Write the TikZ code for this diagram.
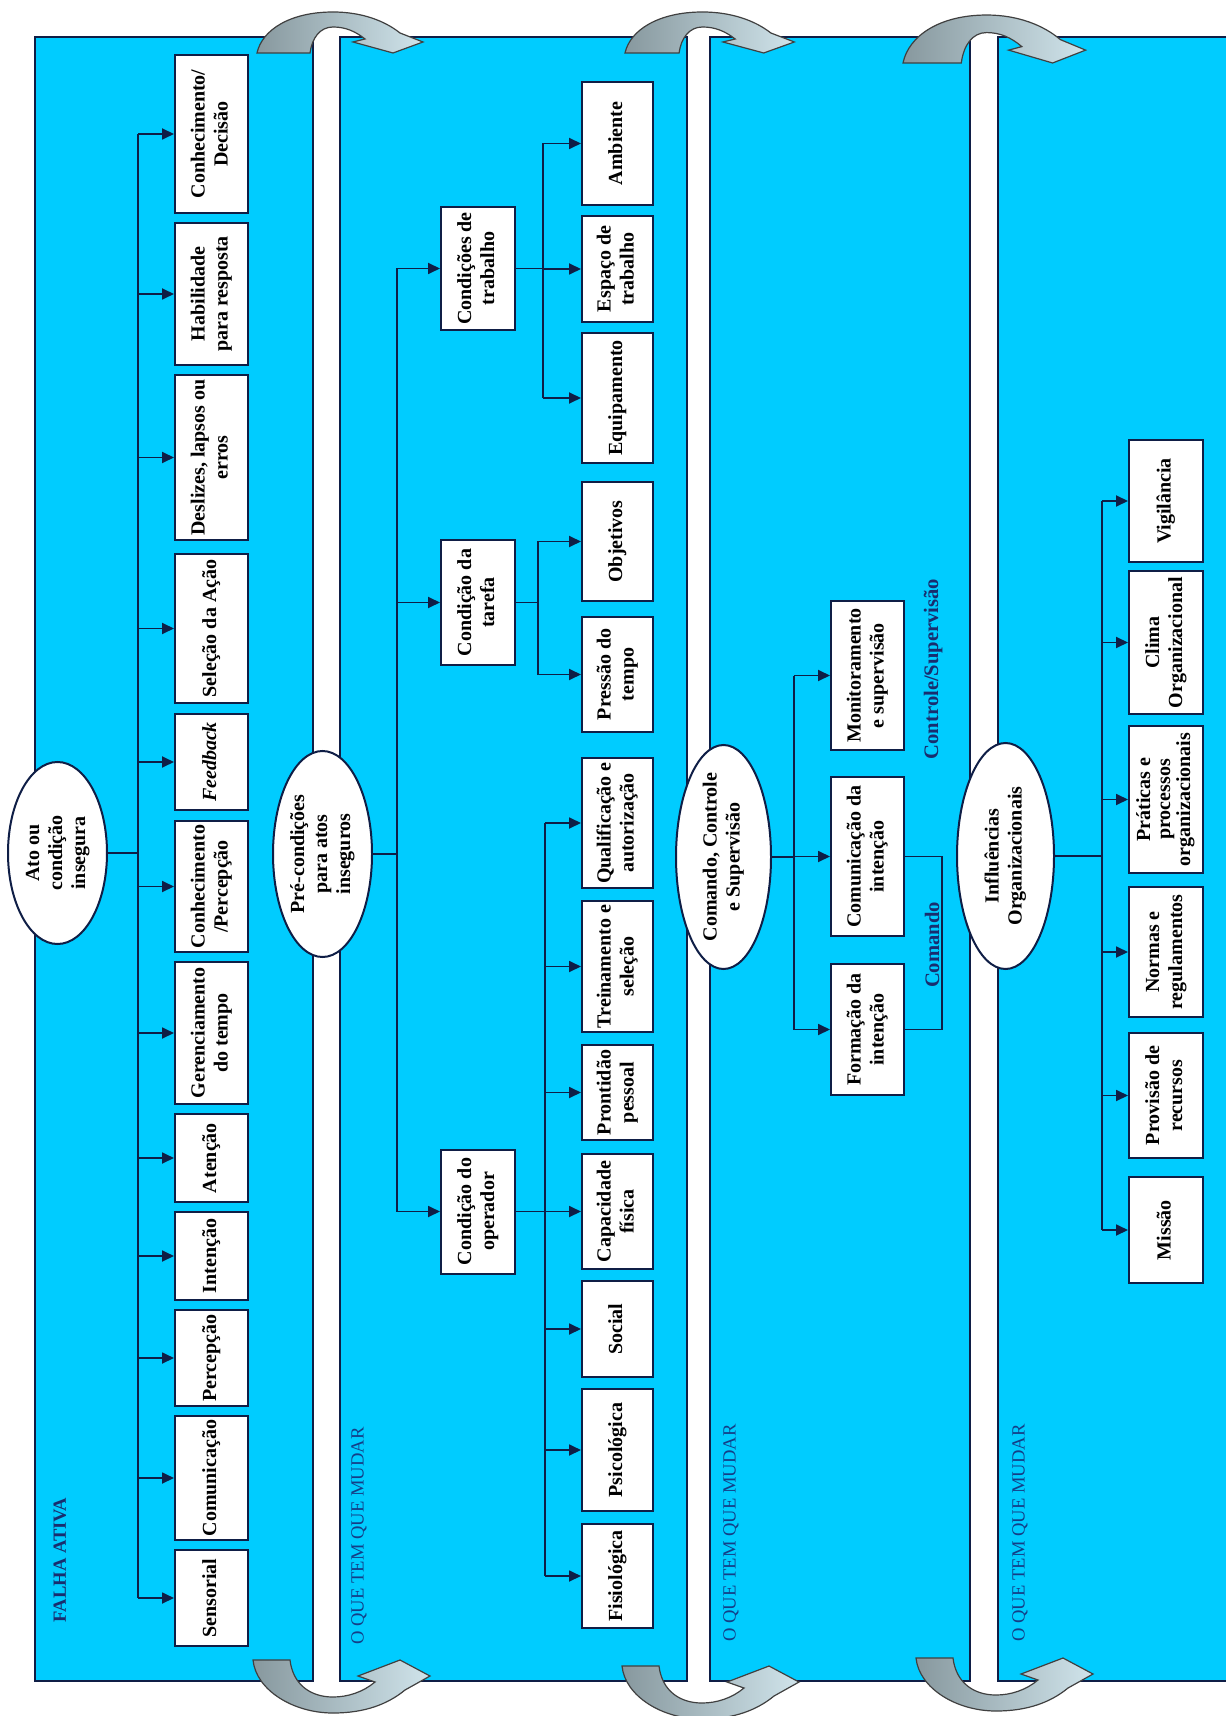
\documentclass[tikz,border=0pt]{standalone}
\usepackage{fontspec}
\setmainfont{Liberation Serif}
\usepackage{graphicx}
\usetikzlibrary{arrows.meta,shapes.geometric}
\definecolor{panelc}{RGB}{0,204,255}
\definecolor{linec}{RGB}{15,30,70}
\definecolor{navy}{RGB}{25,45,110}
\definecolor{mudarc}{RGB}{20,62,135}
\definecolor{arrdark}{RGB}{135,152,158}
\definecolor{arrlight}{RGB}{208,228,235}
\newcommand{\rt}[1]{\rotatebox{90}{\begin{tabular}{@{}c@{}}#1\end{tabular}}}
\begin{document}
\begin{tikzpicture}[x=0.5pt,y=-0.5pt,
  every node/.style={font=\fontsize{10}{11.5}\selectfont\bfseries, text=black},
  panel/.style={fill=panelc},
  pborder/.style={draw=linec, line width=1pt},
  box/.style={draw=linec, line width=1pt, fill=white, inner sep=0pt, rectangle},
  bsize/.style 2 args={minimum width={#1*0.5pt}, minimum height={#2*0.5pt}},
  ell/.style={ellipse, draw=linec, line width=1pt, fill=white, inner sep=0pt},
  conn/.style={draw=linec, line width=0.9pt},
  arr/.style={conn, -{Triangle[length=6pt,width=5.5pt]}},
  carrow/.style={draw=black!75, line width=0.6pt, left color=arrdark, right color=arrlight},
  lbl/.style={text=navy, rotate=90, inner sep=0pt},
  mudar/.style={text=mudarc, rotate=90, inner sep=0pt, font=\fontsize{9.3}{11}\selectfont}]
\useasboundingbox (0,0) rectangle (1226,1716);
\fill[white] (0,0) rectangle (1226,1716);
% panels
\path[panel, pborder] (35,37) rectangle (313,1681);
\path[panel, pborder] (340,37) rectangle (687,1681);
\path[panel, pborder] (710,37) rectangle (970,1681);
\fill[panelc] (998,37) rectangle (1226,1681);
\draw[pborder] (1226,37) -- (998,37) -- (998,1681) -- (1226,1681);
% curved arrows (top)
\foreach \sx/\sy/\xs/\ys in {257/53/1/1, 625/53/1.02/1, 903/63/1.1/1.17}{
  \begin{scope}[shift={(\sx,\sy)}, xscale=\xs, yscale=\ys]
  \path[carrow] (0,0) .. controls (5,-23) and (33,-41) .. (76,-41) .. controls (105,-41) and (128,-32) .. (143,-20) -- (166,-11) -- (136,0) -- (96,-11) -- (108,-14) .. controls (98,-22) and (88,-26) .. (76,-26) .. controls (63,-26) and (55,-15) .. (53,0) -- cycle;
  \end{scope}}
% curved arrows (bottom)
\foreach \sx/\sy in {253/1660, 622/1666, 916/1658}{
  \begin{scope}[shift={(\sx,\sy)}]
  \path[carrow] (0,0) .. controls (3,30) and (40,53) .. (80,53) .. controls (112,53) and (135,44) .. (152,30) -- (177,16) -- (147,0) -- (105,16) -- (122,22) .. controls (110,32) and (95,37) .. (80,37) .. controls (58,37) and (40,25) .. (37,0) -- cycle;
  \end{scope}}
% labels
\node[lbl, font=\fontsize{9.3}{11}\selectfont\bfseries] (falha) at (60,1560) {FALHA ATIVA};
\node[mudar] (m1) at (359,1536) {O QUE TEM QUE MUDAR};
\node[mudar] (m2) at (731,1533) {O QUE TEM QUE MUDAR};
\node[mudar] (m3) at (1020,1533) {O QUE TEM QUE MUDAR};
\node[lbl, font=\fontsize{10.3}{12}\selectfont\bfseries] (lcmd) at (932,945) {Comando};
\node[lbl, font=\fontsize{10.3}{12}\selectfont\bfseries] (lctl) at (933,669) {Controle/Supervisão};
% ellipses
\node[ell, bsize={99}{182}] (ato) at (57.5,853) {};
\node (atot) at (ato.center) {\rt{Ato ou\\condição\\insegura}};
\node[ell, bsize={99}{206}] (pre) at (322.5,854) {};
\node (pret) at (pre.center) {\rt{Pré-condições\\para atos\\inseguros}};
\node[ell, bsize={95}{224}] (cmd) at (723.5,857) {};
\node (cmdt) at (cmd.center) {\rt{Comando, Controle\\e Supervisão}};
\node[ell, bsize={97}{226}] (inf) at (1005.5,856) {};
\node (inft) at (inf.center) {\rt{Influências\\Organizacionais}};
% panel 1 boxes
\node[box,bsize={73}{158}] (cd) at (211.5,134) {\rt{Conhecimento/\\Decisão}};
\node[box,bsize={73}{142}] (hr) at (211.5,294) {\rt{Habilidade\\para resposta}};
\node[box,bsize={73}{165}] (dl) at (211.5,457.5) {\rt{Deslizes, lapsos ou\\erros}};
\node[box,bsize={73}{149}] (sa) at (211.5,628.5) {\rt{Seleção da Ação}};
\node[box,bsize={73}{96}] (fb) at (211.5,762) {\rt{\textit{Feedback}}};
\node[box,bsize={73}{131}] (cp) at (211.5,886.5) {\rt{Conhecimento\\/Percepção}};
\node[box,bsize={73}{142}] (gt) at (211.5,1033) {\rt{Gerenciamento\\do tempo}};
\node[box,bsize={73}{88}] (ate) at (211.5,1158) {\rt{Atenção}};
\node[box,bsize={73}{88}] (int) at (211.5,1256) {\rt{Intenção}};
\node[box,bsize={73}{96}] (pe) at (211.5,1358) {\rt{Percepção}};
\node[box,bsize={73}{124}] (co) at (211.5,1478) {\rt{Comunicação}};
\node[box,bsize={73}{96}] (se) at (211.5,1598) {\rt{Sensorial}};
\coordinate (b1) at (138,0);
\draw[conn] (ato.east) -- (ato.east -| b1);
\draw[conn] (b1 |- cd.west) -- (b1 |- se.west);
\foreach \n in {cd,hr,dl,sa,fb,cp,gt,ate,int,pe,co,se}
  \draw[arr] (b1 |- \n.west) -- (\n.west);
% panel 2 middle boxes
\node[box,bsize={74}{123}] (ct) at (478,268.5) {\rt{Condições de\\trabalho}};
\node[box,bsize={74}{125}] (tar) at (478,602.5) {\rt{Condição da\\tarefa}};
\node[box,bsize={74}{124}] (op) at (478,1211.5) {\rt{Condição do\\operador}};
\coordinate (b2) at (397,0);
\draw[conn] (pre.east) -- (pre.east -| b2);
\draw[conn] (b2 |- ct.west) -- (b2 |- op.west);
\foreach \n in {ct,tar,op}
  \draw[arr] (b2 |- \n.west) -- (\n.west);
% panel 2 leaf boxes
\node[box,bsize={71}{123}] (amb) at (617.5,143.5) {\rt{Ambiente}};
\node[box,bsize={71}{106}] (esp) at (617.5,269) {\rt{Espaço de\\trabalho}};
\node[box,bsize={71}{130}] (equ) at (617.5,398) {\rt{Equipamento}};
\node[box,bsize={71}{119}] (obj) at (617.5,541.5) {\rt{Objetivos}};
\node[box,bsize={71}{115}] (pres) at (617.5,674.5) {\rt{Pressão do\\tempo}};
\node[box,bsize={71}{130}] (qual) at (617.5,823) {\rt{Qualificação e\\autorização}};
\node[box,bsize={71}{131}] (trei) at (617.5,966.5) {\rt{Treinamento e\\seleção}};
\node[box,bsize={71}{95}] (pron) at (617.5,1092.5) {\rt{Prontidão\\pessoal}};
\node[box,bsize={71}{115}] (cap) at (617.5,1211.5) {\rt{Capacidade\\física}};
\node[box,bsize={71}{96}] (soc) at (617.5,1329) {\rt{Social}};
\node[box,bsize={71}{122}] (psi) at (617.5,1450) {\rt{Psicológica}};
\node[box,bsize={71}{104}] (fis) at (617.5,1576) {\rt{Fisiológica}};
\coordinate (s1) at (543,0);
\coordinate (s2) at (538,0);
\coordinate (s3) at (545,0);
\draw[conn] (ct.east) -- (ct.east -| s1);
\draw[conn] (s1 |- amb.west) -- (s1 |- equ.west);
\foreach \n in {amb,esp,equ}
  \draw[arr] (s1 |- \n.west) -- (\n.west);
\draw[conn] (tar.east) -- (tar.east -| s2);
\draw[conn] (s2 |- obj.west) -- (s2 |- pres.west);
\foreach \n in {obj,pres}
  \draw[arr] (s2 |- \n.west) -- (\n.west);
\draw[conn] (op.east) -- (op.east -| s3);
\draw[conn] (s3 |- qual.west) -- (s3 |- fis.west);
\foreach \n in {qual,trei,pron,cap,soc,psi,fis}
  \draw[arr] (s3 |- \n.west) -- (\n.west);
% panel 3 boxes
\node[box,bsize={73}{149}] (mon) at (867.5,675.5) {\rt{Monitoramento\\e supervisão}};
\node[box,bsize={73}{159}] (comi) at (867.5,856.5) {\rt{Comunicação da\\intenção}};
\node[box,bsize={73}{131}] (form) at (867.5,1029.5) {\rt{Formação da\\intenção}};
\coordinate (b3) at (794,0);
\coordinate (br) at (942,0);
\draw[conn] (cmd.east) -- (cmd.east -| b3);
\draw[conn] (b3 |- mon.west) -- (b3 |- form.west);
\foreach \n in {mon,comi,form}
  \draw[arr] (b3 |- \n.west) -- (\n.west);
\draw[conn] (comi.east) -- (comi.east -| br) -- (br |- form.east) -- (form.east);
% panel 4 boxes
\node[box,bsize={74}{122}] (vig) at (1166,501) {\rt{Vigilância}};
\node[box,bsize={74}{143}] (cli) at (1166,642.5) {\rt{Clima\\Organizacional}};
\node[box,bsize={74}{147}, font=\fontsize{10}{10}\selectfont\bfseries] (pra) at (1166,799.5) {\rt{Práticas e\\processos\\organizacionais}};
\node[box,bsize={74}{130}] (nor) at (1166,952) {\rt{Normas e\\regulamentos}};
\node[box,bsize={74}{125}] (prov) at (1166,1095.5) {\rt{Provisão de\\recursos}};
\node[box,bsize={74}{106}] (mis) at (1166,1230) {\rt{Missão}};
\coordinate (b4) at (1102,0);
\draw[conn] (inf.east) -- (inf.east -| b4);
\draw[conn] (b4 |- vig.west) -- (b4 |- mis.west);
\foreach \n in {vig,cli,pra,nor,prov,mis}
  \draw[arr] (b4 |- \n.west) -- (\n.west);
\end{tikzpicture}
\end{document}
